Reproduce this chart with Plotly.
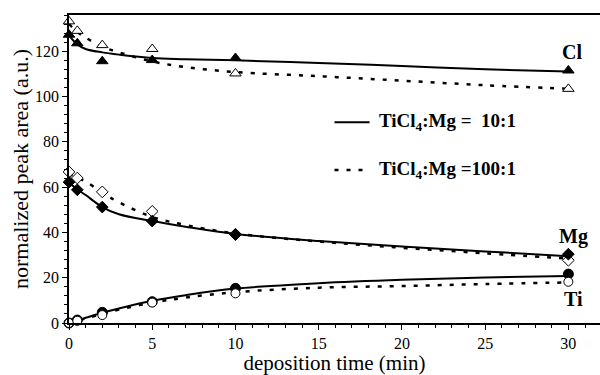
import plotly.graph_objects as go

# measured data points
t_pts = [0, 0.5, 2, 5, 10, 30]
cl_10 = [127.3, 123.5, 115.6, 116.1, 117.0, 111.5]
cl_100 = [133.2, 129.0, 122.7, 121.0, 110.2, 103.4]
mg_10 = [62.2, 58.8, 51.2, 45.0, 39.0, 30.4]
mg_100 = [66.7, 64.0, 57.9, 49.3, 39.2, 27.7]
ti_10 = [0.0, 1.3, 4.7, 9.4, 15.3, 21.6]
ti_100 = [0.0, 1.0, 3.5, 9.0, 13.1, 18.2]

# fitted curves
t_fit = [0, 0.5, 1, 2, 3, 5, 7, 10, 15, 20, 25, 30]
cl_10_fit = [127, 123, 121, 119.5, 118.5, 117, 116.5, 116, 114.8, 113.5, 112, 111]
cl_100_fit = [132, 128.5, 126, 122, 119.5, 115.5, 113, 110.8, 109, 107, 105, 103.4]
mg_10_fit = [62, 59, 56.5, 51.2, 48, 45, 42.5, 39.3, 36.2, 33.8, 31.6, 29.5]
mg_100_fit = [66, 64, 62.5, 57.5, 53.3, 46.8, 43.3, 39.5, 36, 33.2, 30.8, 28.5]
ti_10_fit = [0, 1.2, 2.3, 4.5, 6.4, 9.8, 12.3, 15.2, 17.6, 19.1, 20.1, 20.8]
ti_100_fit = [0, 1.0, 2.0, 4.0, 5.9, 9.0, 11.2, 13.6, 15.6, 16.3, 17.2, 17.9]

legend_labels = ["TiCl<sub>4</sub>:Mg =  10:1", "TiCl<sub>4</sub>:Mg =100:1"]
series_labels = ["Cl", "Mg", "Ti"]
label_pos = [(30.2, 119.5), (30.3, 38), (30.3, 10.5)]

FONT = "Liberation Serif, Times New Roman, serif"
fig = go.Figure()

solid = dict(color="black", width=2)
dotted = dict(color="black", width=2.5, dash="4px,8px")

for y in [cl_10_fit, mg_10_fit, ti_10_fit]:
    fig.add_trace(go.Scatter(x=t_fit, y=y, mode="lines", line=solid, line_shape="spline",
                             cliponaxis=False, showlegend=False, hoverinfo="skip"))
for y in [cl_100_fit, mg_100_fit, ti_100_fit]:
    fig.add_trace(go.Scatter(x=t_fit, y=y, mode="lines", line=dotted, line_shape="spline",
                             cliponaxis=False, showlegend=False, hoverinfo="skip"))

markers = [
    (cl_100, "triangle-up", "white", 10),
    (cl_10, "triangle-up", "black", 10),
    (mg_100, "diamond", "white", 9),
    (mg_10, "diamond", "black", 9),
    (ti_10, "circle", "black", 10),
    (ti_100, "circle", "white", 9),
]
for y, sym, fill, sz in markers:
    fig.add_trace(go.Scatter(x=t_pts, y=y, mode="markers", cliponaxis=False, showlegend=False,
                             marker=dict(symbol=sym, size=sz, color=fill,
                                         line=dict(color="black", width=1))))

for lab, (lx, ly) in zip(series_labels, label_pos):
    fig.add_annotation(x=lx, y=ly, text="<b>%s</b>" % lab, showarrow=False,
                       font=dict(family=FONT, size=20, color="black"), xanchor="center", yanchor="middle")

# legend drawn manually
leg_y = [0.652, 0.497]
for i, (lab, ln) in enumerate(zip(legend_labels, [solid, dotted])):
    fig.add_shape(type="line", xref="paper", yref="paper", x0=0.5, x1=0.566, y0=leg_y[i], y1=leg_y[i],
                  line=ln)
    fig.add_annotation(xref="paper", yref="paper", x=0.58, y=leg_y[i], text="<b>%s</b>" % lab,
                       showarrow=False, xanchor="left", yanchor="middle",
                       font=dict(family=FONT, size=19, color="black"))

fig.update_layout(
    width=600, height=375,
    margin=dict(l=69, r=0, t=15, b=52),
    paper_bgcolor="white", plot_bgcolor="white",
    font=dict(family=FONT, size=16, color="black"),
    xaxis=dict(range=[0, 31.9], tickvals=[0, 5, 10, 15, 20, 25, 30], showgrid=False, zeroline=False,
               showline=True, linecolor="black", linewidth=1.5, mirror=True,
               ticks="outside", ticklen=5, tickcolor="black",
               tickfont=dict(family=FONT, size=16),
               minor=dict(dtick=1, ticks="outside", ticklen=3, tickcolor="black"),
               title=dict(text="deposition time (min)", font=dict(family=FONT, size=21), standoff=0)),
    yaxis=dict(range=[0, 136], tickvals=[0, 20, 40, 60, 80, 100, 120], showgrid=False, zeroline=False,
               showline=True, linecolor="black", linewidth=1.5,
               ticks="outside", ticklen=5, tickcolor="black",
               tickfont=dict(family=FONT, size=16),
               minor=dict(dtick=4, ticks="outside", ticklen=3, tickcolor="black"),
               title=dict(text="normalized peak area (a.u.)", font=dict(family=FONT, size=22), standoff=0)),
)

fig.write_html("out.html")
